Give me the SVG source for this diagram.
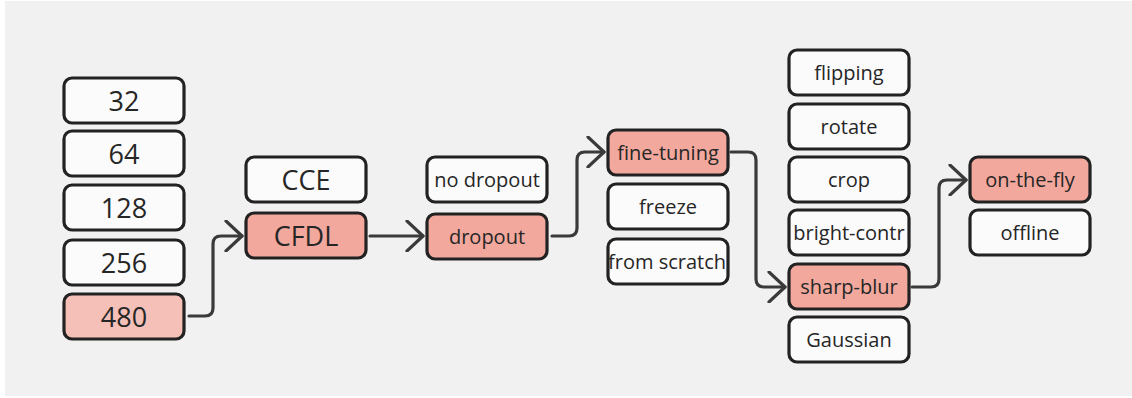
<svg xmlns="http://www.w3.org/2000/svg" width="1132" height="398" viewBox="0 0 1132 398">
  <style>
    .box { fill: #fbfbfb; stroke: #222222; stroke-width: 3.2; }
    .sel { fill: #f2a89d; }
    .sel-light { fill: #f4c0b7; }
    .lbl { font-family: "Open Sans", "Noto Sans", sans-serif; font-size: 20px; fill: #262626; text-anchor: middle; dominant-baseline: central; }
    .big { font-size: 27px; }
    .wire { fill: none; stroke: #3a3a3a; stroke-width: 3.2; stroke-linecap: round; stroke-linejoin: round; }
  </style>
  <defs>
    <marker id="chevron" viewBox="0 0 20 32" refX="18" refY="16" markerWidth="20" markerHeight="32" markerUnits="userSpaceOnUse" orient="auto">
      <path d="M2,1 L18,16 L2,31" fill="none" stroke="#3a3a3a" stroke-width="3.2" stroke-linecap="round" stroke-linejoin="round"/>
    </marker>
  </defs>

  <rect x="0" y="0" width="1132" height="398" fill="#ffffff"/>
  <rect x="5" y="1" width="1127" height="395" fill="#f1f1f1"/>

  <!-- batch size column -->
  <g id="n32"><rect class="box" x="64" y="78" width="120" height="45" rx="8"/><text class="lbl big" x="124" y="100.5">32</text></g>
  <g id="n64"><rect class="box" x="64" y="131" width="120" height="45" rx="8"/><text class="lbl big" x="124" y="153.5">64</text></g>
  <g id="n128"><rect class="box" x="64" y="185" width="120" height="45" rx="8"/><text class="lbl big" x="124" y="207.5">128</text></g>
  <g id="n256"><rect class="box" x="64" y="240" width="120" height="45" rx="8"/><text class="lbl big" x="124" y="262.5">256</text></g>
  <g id="n480"><rect class="box sel-light" x="64" y="294" width="120" height="45" rx="8"/><text class="lbl big" x="124" y="316.5">480</text></g>

  <!-- loss column -->
  <g id="nCCE"><rect class="box" x="246" y="157" width="120" height="45" rx="8"/><text class="lbl big" x="306" y="179.5">CCE</text></g>
  <g id="nCFDL"><rect class="box sel" x="246" y="213" width="120" height="45" rx="8"/><text class="lbl big" x="306" y="235.5">CFDL</text></g>

  <!-- dropout column -->
  <g id="nNoDropout"><rect class="box" x="427" y="157" width="120" height="45" rx="8"/><text class="lbl" x="487" y="179.5">no dropout</text></g>
  <g id="nDropout"><rect class="box sel" x="427" y="214" width="120" height="45" rx="8"/><text class="lbl" x="487" y="236.5">dropout</text></g>

  <!-- training mode column -->
  <g id="nFineTuning"><rect class="box sel" x="608" y="130" width="120" height="45" rx="8"/><text class="lbl" x="668" y="152.5">fine-tuning</text></g>
  <g id="nFreeze"><rect class="box" x="608" y="184" width="120" height="45" rx="8"/><text class="lbl" x="668" y="206.5">freeze</text></g>
  <g id="nScratch"><rect class="box" x="608" y="239" width="120" height="45" rx="8"/><text class="lbl" x="667" y="261.5">from scratch</text></g>

  <!-- augmentation column -->
  <g id="nFlipping"><rect class="box" x="789" y="50" width="120" height="45" rx="8"/><text class="lbl" x="849" y="72.5">flipping</text></g>
  <g id="nRotate"><rect class="box" x="789" y="104" width="120" height="45" rx="8"/><text class="lbl" x="849" y="126.5">rotate</text></g>
  <g id="nCrop"><rect class="box" x="789" y="157" width="120" height="45" rx="8"/><text class="lbl" x="849" y="179.5">crop</text></g>
  <g id="nBright"><rect class="box" x="789" y="210" width="120" height="45" rx="8"/><text class="lbl" x="849" y="232.5">bright-contr</text></g>
  <g id="nSharp"><rect class="box sel" x="789" y="264" width="120" height="45" rx="8"/><text class="lbl" x="849" y="286.5">sharp-blur</text></g>
  <g id="nGaussian"><rect class="box" x="789" y="317" width="120" height="45" rx="8"/><text class="lbl" x="849" y="339.5">Gaussian</text></g>

  <!-- augmentation timing column -->
  <g id="nOnTheFly"><rect class="box sel" x="970" y="157" width="120" height="45" rx="8"/><text class="lbl" x="1030" y="179.5">on-the-fly</text></g>
  <g id="nOffline"><rect class="box" x="970" y="210" width="120" height="45" rx="8"/><text class="lbl" x="1030" y="232.5">offline</text></g>

  <!-- connectors through the selected options -->
  <g id="connectors">
    <path class="wire" marker-end="url(#chevron)" d="M189,316 H205 Q213,316 213,308 V244 Q213,236 221,236 H242"/>
    <path class="wire" marker-end="url(#chevron)" d="M370,236 H423"/>
    <path class="wire" marker-end="url(#chevron)" d="M552,236 H569 Q577,236 577,228 V160 Q577,152 585,152 H604"/>
    <path class="wire" marker-end="url(#chevron)" d="M731,152 H748 Q756,152 756,160 V279 Q756,287 764,287 H785"/>
    <path class="wire" marker-end="url(#chevron)" d="M912,287 H931 Q939,287 939,279 V188 Q939,180 947,180 H966"/>
  </g>
</svg>
